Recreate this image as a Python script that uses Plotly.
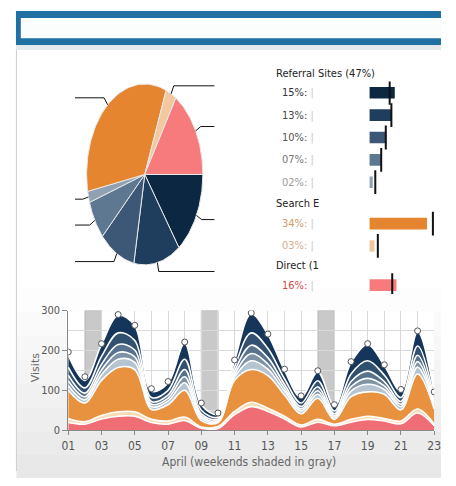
import numpy as np
import plotly.graph_objects as go

# The page body keeps its default 8px margin, so the figure is 16px smaller than the
# 456x486 window and reference pixel positions are shifted by 8px.
OFF = 8
W, H = 456 - 2 * OFF, 486 - 2 * OFF
def px(x): return (x - OFF) / W
def py(y): return 1 - (y - OFF) / H

FONT = "Liberation Sans Narrow, Arial Narrow, DejaVu Sans Condensed, sans-serif"

# ---------------- data ----------------
segment_labels = ["15%", "13%", "10%", "07%", "02%", "34%", "03%", "16%"]
segment_share = [15, 13, 10, 7, 2, 34, 3, 16]
segment_target = [12, 13, 9.7, 7, 3.5, 37.5, 5, 13.5]
segment_colors = ["#0b2742", "#1f3e5e", "#3c5876", "#5f7891", "#8fa1b3",
                  "#e5852f", "#f2c8a0", "#f77b7c"]
label_colors = ["#333333", "#444444", "#555555", "#777777", "#9a9a9a",
                "#cf9a6c", "#d9ad8c", "#d64848"]
bar_rows = [0, 1, 2, 3, 4, 5.85, 6.85, 8.6]
group_headers = ["Referral Sites (47%)", "Search E", "Direct (1"]

days = list(range(1, 24))
tick_days = list(range(1, 24, 2))
tick_text = ["%02d" % d for d in tick_days]
weekends = [(2, 3), (9, 10), (16, 17)]

direct_16 = [19, 15, 28, 35, 35, 19, 15, 24, 5, 4, 39, 59, 47, 28, 8, 20, 11, 20, 27, 23, 16, 43, 11]
search_03 = [10, 6, 9, 11, 11, 8, 8, 9, 3, 5, 8, 11, 8, 7, 5, 7, 4, 7, 8, 6, 7, 10, 4]
search_34 = [71, 47, 88, 111, 106, 25, 41, 67, 16, 10, 78, 82, 82, 53, 28, 53, 12, 57, 61, 61, 28, 88, 38]
ref_02 = [12, 8, 14, 21, 18, 7, 9, 19, 6, 3, 8, 22, 16, 10, 7, 10, 5, 14, 19, 12, 8, 17, 6]
ref_07 = [12, 8, 12, 17, 14, 6, 7, 15, 5, 3, 7, 18, 13, 8, 5, 9, 4, 11, 15, 9, 6, 14, 5]
ref_10 = [14, 9, 14, 20, 17, 7, 8, 18, 6, 3, 8, 21, 16, 9, 6, 10, 5, 13, 18, 11, 7, 16, 6]
ref_13 = [20, 13, 20, 29, 24, 10, 12, 26, 9, 5, 11, 31, 23, 14, 9, 15, 7, 19, 26, 16, 10, 23, 9]
ref_15 = [30, 19, 30, 44, 37, 16, 18, 40, 14, 7, 16, 48, 35, 21, 14, 22, 12, 29, 41, 24, 16, 36, 14]
total_markers = [196, 134, 217, 290, 263, 104, 122, 221, 68, 43, 176, 294, 241, 153, 86, 149, 64,
                 172, 217, 164, 102, 249, 96]

stack_layers = [
    ("Direct 16%", direct_16, "#ef6d74"),
    ("Search 03%", search_03, "#fadbb6"),
    ("Search 34%", search_34, "#e8913f"),
    ("Referral 02%", ref_02, "#b6c4d1"),
    ("Referral 07%", ref_07, "#7f93a7"),
    ("Referral 10%", ref_10, "#58728d"),
    ("Referral 13%", ref_13, "#32506f"),
    ("Referral 15%", ref_15, "#15365a"),
]

fig = go.Figure()

# ---------------- elliptical pie ----------------
start = 0.0
for lab, s, c in zip(segment_labels, segment_share, segment_colors):
    t0, t1 = start * 3.6, (start + s) * 3.6
    ang = np.radians(np.linspace(t0, t1, 60))
    xs = np.concatenate([[0], np.cos(ang), [0]])
    ys = np.concatenate([[0], -np.sin(ang), [0]])
    fig.add_trace(go.Scatter(x=xs, y=ys, xaxis="x2", yaxis="y2", mode="lines",
                             fill="toself", fillcolor=c,
                             line=dict(color="#e9e9e9", width=1),
                             hoverinfo="skip", showlegend=False))
    mid = np.radians((t0 + t1) / 2)
    sx, sy = np.cos(mid), -np.sin(mid)
    ex = 1.2 if sx > 0 else -1.2
    fig.add_trace(go.Scatter(x=[sx, 1.1 * sx, ex], y=[sy, 1.1 * sy, 1.1 * sy],
                             xaxis="x2", yaxis="y2", mode="lines",
                             line=dict(color="#111111", width=1),
                             hoverinfo="skip", showlegend=False))
    start += s

# ---------------- bullet bars ----------------
fig.add_trace(go.Bar(x=segment_share, y=bar_rows, orientation="h", xaxis="x3", yaxis="y3",
                     width=0.52, marker=dict(color=segment_colors, line=dict(width=0)),
                     showlegend=False, hoverinfo="skip"))
fig.add_trace(go.Scatter(x=segment_target, y=bar_rows, xaxis="x3", yaxis="y3", mode="markers",
                         marker=dict(symbol="line-ns-open", size=17, color="#111111",
                                     line=dict(color="#111111", width=2)),
                         showlegend=False, hoverinfo="skip"))

# ---------------- stacked area ----------------
for name, vals, c in stack_layers:
    fig.add_trace(go.Scatter(x=days, y=vals, name=name, mode="lines", stackgroup="one",
                             line=dict(color="white", width=1.6, shape="spline", smoothing=1.0),
                             fillcolor=c, hoverinfo="skip", showlegend=False))
fig.add_trace(go.Scatter(x=days, y=total_markers, mode="markers",
                         marker=dict(size=6, color="white", line=dict(color="#555555", width=1)),
                         showlegend=False, hoverinfo="skip"))

shapes = []
# bottom panel gradient background (decorative bands)
grad = ["#fdfdfd", "#fafafa", "#f7f7f7", "#f4f4f4", "#f1f1f1", "#eeeeee", "#ebebeb", "#e8e8e8"]
band_top = 290
band_h = (486 - band_top) / len(grad)
for i, gc in enumerate(grad):
    shapes.append(dict(type="rect", xref="paper", yref="paper", x0=px(9.5), x1=1,
                       y0=py(band_top + (i + 1) * band_h + 0.5), y1=py(band_top + i * band_h),
                       fillcolor=gc, line=dict(width=0), layer="below"))
shapes += [
    # white plot area of the time-series panel
    dict(type="rect", xref="x", yref="y", x0=1, x1=23, y0=0, y1=300,
         fillcolor="#ffffff", line=dict(width=0), layer="below"),
    # header bar
    dict(type="rect", xref="paper", yref="paper", x0=px(9), x1=1, y0=py(40), y1=py(5),
         fillcolor="#2170a3", line=dict(width=0), layer="below"),
    dict(type="rect", xref="paper", yref="paper", x0=px(14), x1=1, y0=py(33), y1=py(12),
         fillcolor="#fbfdfd", line=dict(width=0), layer="below"),
    dict(type="rect", xref="paper", yref="paper", x0=px(9), x1=1, y0=py(45), y1=py(40),
         fillcolor="#e4e9ec", line=dict(width=0), layer="below"),
    # left panel edge
    dict(type="line", xref="paper", yref="paper", x0=px(9.5), x1=px(9.5), y0=0, y1=py(45),
         line=dict(color="#cfcfcf", width=1), layer="below"),
]
for a, b in weekends:
    shapes.append(dict(type="rect", xref="x", yref="y", x0=a, x1=b, y0=0, y1=300,
                       fillcolor="#c9c9c9", line=dict(color="#b0b0b0", width=1), layer="below"))

annotations = []
for lab, r, lc in zip(segment_labels, bar_rows, label_colors):
    annotations.append(dict(xref="paper", yref="y3", x=px(282), y=r, xanchor="left",
                            yanchor="middle", showarrow=False,
                            text=f"{lab}: <span style='color:#c8c8c8'>|</span>",
                            font=dict(family=FONT, size=11, color=lc)))
for txt, yy in zip(group_headers, [69, 203, 267]):
    annotations.append(dict(xref="paper", yref="paper", x=px(275), y=py(yy), xanchor="left",
                            yanchor="middle", showarrow=False, text=txt,
                            font=dict(family=FONT, size=11, color="#222222")))
annotations.append(dict(xref="paper", yref="paper", x=px(250), y=0, showarrow=False,
                        text="April (weekends shaded in gray)", xanchor="center", yanchor="bottom",
                        font=dict(family=FONT, size=12, color="#666666")))
annotations.append(dict(xref="paper", yref="paper", x=px(30), y=py(372), showarrow=False,
                        text="Visits", textangle=-90, xanchor="center", yanchor="middle",
                        font=dict(family="DejaVu Sans, sans-serif", size=11, color="#666666")))

fig.update_layout(
    width=W, height=H, margin=dict(l=0, r=0, t=0, b=0),
    paper_bgcolor="#ffffff", plot_bgcolor="rgba(255,255,255,0)",
    showlegend=False, shapes=shapes, annotations=annotations,
    font=dict(family=FONT, color="#555555"),
    xaxis=dict(domain=[px(63), px(441)], range=[1, 23], tickvals=tick_days, ticktext=tick_text,
               ticks="outside", ticklen=4, tickcolor="#888888", showline=True,
               linecolor="#888888", gridcolor="#d9d9d9", zeroline=False,
               minor=dict(dtick=1, showgrid=True, gridcolor="#d9d9d9", ticks=""),
               tickfont=dict(family=FONT, size=12, color="#555555"), fixedrange=True),
    yaxis=dict(domain=[py(436), py(313)], range=[0, 300], tickvals=[0, 100, 200, 300],
               ticks="outside", ticklen=5, tickcolor="#888888", showline=True,
               linecolor="#888888", gridcolor="#d9d9d9", zeroline=False,
               minor=dict(dtick=50, showgrid=True, gridcolor="#d9d9d9", ticks=""),
               tickfont=dict(family=FONT, size=11, color="#555555"), fixedrange=True),
    xaxis2=dict(domain=[px(52), px(232)], range=[-1.5, 1.5], visible=False, anchor="y2"),
    yaxis2=dict(domain=[py(275), py(71)], range=[-1.097, 1.097], visible=False, anchor="x2"),
    xaxis3=dict(domain=[px(374), px(444)], range=[0, 40], visible=False, anchor="y3"),
    yaxis3=dict(domain=[py(296), py(77.5)], range=[9.0, -0.5], visible=False, anchor="x3"),
)

fig.write_html("out.html", config={"displayModeBar": False, "staticPlot": True})
